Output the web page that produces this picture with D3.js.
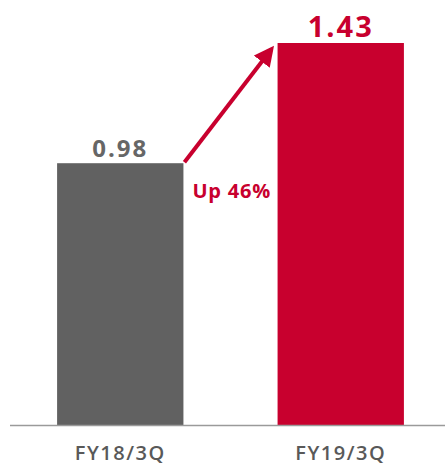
<!DOCTYPE html>
<html>
<head>
<meta charset="utf-8">
<script src="https://cdn.jsdelivr.net/npm/d3@7"></script>
<style>
  body { margin: 0; background: #fff; }
  svg { display: block; font-family: "Open Sans", "Liberation Sans", sans-serif; }
</style>
</head>
<body>
<svg id="chart" width="445" height="466"></svg>
<script>
let categories = ["FY18/3Q", "FY19/3Q"];
let values = [0.98, 1.43];
let colors = ["#616161", "#c8002e"];
let labelColors = ["#666666", "#c8002e"];
let growthLabel = "Up 46%";

let svg = d3.select("#chart"),
    baseline = 425;

let x = d3.scaleBand()
    .domain(categories)
    .range([10, 451])
    .paddingInner(0.427)
    .paddingOuter(0.2136);

let y = d3.scaleLinear()
    .domain([0, 1.43])
    .range([baseline, 43]);

// bars
svg.selectAll(".bar")
    .data(values)
    .enter().append("rect")
    .attr("class", "bar")
    .attr("x", function(d, i) { return x(categories[i]); })
    .attr("y", function(d) { return y(d); })
    .attr("width", x.bandwidth())
    .attr("height", function(d) { return baseline - y(d); })
    .attr("fill", function(d, i) { return colors[i]; });

// baseline
svg.append("line")
    .attr("x1", 10).attr("x2", 445)
    .attr("y1", baseline + 0.5).attr("y2", baseline + 0.5)
    .attr("stroke", "#9a9a9a")
    .attr("stroke-width", 1.5);

// value labels
svg.selectAll(".val")
    .data(values)
    .enter().append("text")
    .attr("class", "val")
    .attr("x", function(d, i) { return x(categories[i]) + x.bandwidth() / 2; })
    .attr("y", function(d) { return y(d) - 6; })
    .attr("text-anchor", "middle")
    .attr("font-weight", "bold")
    .attr("letter-spacing", 2)
    .attr("font-size", function(d, i) { return i == 0 ? 24 : 29; })
    .attr("fill", function(d, i) { return labelColors[i]; })
    .text(function(d) { return d.toFixed(2); });

// category labels
svg.selectAll(".cat")
    .data(categories)
    .enter().append("text")
    .attr("class", "cat")
    .attr("x", function(d) { return x(d) + x.bandwidth() / 2; })
    .attr("y", 460)
    .attr("text-anchor", "middle")
    .attr("font-size", 20)
    .attr("font-weight", 600)
    .attr("letter-spacing", 1.5)
    .attr("fill", "#595959")
    .text(function(d) { return d; });

// growth arrow
svg.append("defs").append("marker")
    .attr("id", "head")
    .attr("viewBox", "0 0 10 10")
    .attr("refX", 8).attr("refY", 5)
    .attr("markerWidth", 5).attr("markerHeight", 5)
    .attr("markerUnits", "strokeWidth")
    .attr("orient", "auto")
    .append("path")
    .attr("d", "M0,0 L10,5 L0,10 Z")
    .attr("fill", colors[1]);

let x0 = x(categories[0]) + x.bandwidth() + 1,
    x1 = x(categories[1]) - 3;

svg.append("line")
    .attr("x1", x0).attr("y1", y(values[0]) - 1)
    .attr("x2", x1 - 3).attr("y2", y(values[1]) + 6)
    .attr("stroke", colors[1])
    .attr("stroke-width", 4)
    .attr("marker-end", "url(#head)");

svg.append("text")
    .attr("x", x0 + 8)
    .attr("y", 198)
    .attr("text-anchor", "start")
    .attr("font-size", 20)
    .attr("font-weight", "bold")
    .attr("letter-spacing", 0.8)
    .attr("fill", colors[1])
    .text(growthLabel);
</script>
</body>
</html>
